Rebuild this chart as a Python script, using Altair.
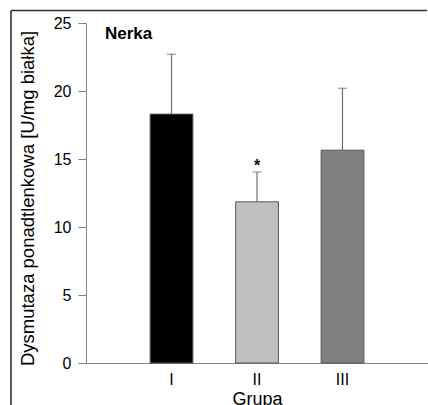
import altair as alt
import pandas as pd

groups = ["I", "II", "III"]
means = [18.3, 11.85, 15.65]
errors = [4.4, 2.2, 4.55]
colors = ["#000000", "#c0c0c0", "#808080"]
marks = ["", "*", ""]

df = pd.DataFrame({
    "Grupa": groups,
    "mean": means,
    "top": [m + e for m, e in zip(means, errors)],
    "color": colors,
    "mark": marks,
})
one = pd.DataFrame({"k": [0]})

FONT = "Liberation Sans"

x_enc = alt.X(
    "Grupa:N",
    sort=groups,
    scale=alt.Scale(paddingInner=0.5, paddingOuter=0.75),
    axis=alt.Axis(
        title="Grupa", labelAngle=0, ticks=False, labelPadding=8,
        titlePadding=3, labelFontSize=16, titleFontSize=18,
        titleFontWeight="normal", labelColor="#000", titleColor="#000",
        domainColor="#808080", labelFont=FONT, titleFont=FONT,
    ),
)

y_scale = alt.Scale(domain=[0, 25], nice=False)
y_enc = alt.Y(
    "mean:Q",
    scale=y_scale,
    axis=alt.Axis(
        title="Dysmutaza ponadtlenkowa [U/mg białka]",
        values=[0, 5, 10, 15, 20, 25], tickSize=8, tickColor="#808080",
        domainColor="#808080", labelFontSize=16, titleFontSize=18.5,
        titleFontWeight="normal", labelPadding=7, grid=False,
        labelColor="#000", titleColor="#000", labelFont=FONT, titleFont=FONT,
        titleX=-59, titleY=175, titleBaseline="middle", titleAlign="center",
        titleAngle=270,
    ),
)

bars = alt.Chart(df).mark_bar(stroke="#555555", strokeWidth=1).encode(
    x=x_enc,
    y=y_enc,
    color=alt.Color("color:N", scale=None),
)

err = alt.Chart(df).mark_rule(color="#6e6e6e", strokeWidth=1.2).encode(
    x=alt.X("Grupa:N", sort=groups),
    y=alt.Y("mean:Q", scale=y_scale),
    y2="top:Q",
)

caps = alt.Chart(df).mark_tick(color="#6e6e6e", thickness=1.2, size=9, orient="horizontal").encode(
    x=alt.X("Grupa:N", sort=groups),
    y=alt.Y("top:Q", scale=y_scale),
)

star = alt.Chart(df).mark_text(fontSize=16, fontWeight="bold", font=FONT, dy=-1,
                               baseline="alphabetic", fill="#000000").encode(
    x=alt.X("Grupa:N", sort=groups),
    y=alt.Y("top:Q", scale=y_scale),
    text="mark:N",
)

title = alt.Chart(one).mark_text(
    text="Nerka", fontSize=17, fontWeight="bold", font=FONT, align="left",
    baseline="alphabetic", fill="#000000",
).encode(x=alt.value(19), y=alt.value(16))

border_left = alt.Chart(one).mark_rule(stroke="#333333", strokeWidth=1.6).encode(
    x=alt.value(-75), y=alt.value(-12.5), y2=alt.value(400),
)
border_top = alt.Chart(one).mark_rule(stroke="#333333", strokeWidth=1.6).encode(
    x=alt.value(-75), x2=alt.value(341), y=alt.value(-12.5),
)

chart = alt.layer(bars, err, caps, star, title, border_left, border_top).properties(
    width=342, height=340,
    background="white",
    autosize=alt.AutoSizeParams(type="none"),
    padding={"left": 86, "top": 23, "right": 0, "bottom": 42},
).configure_view(strokeWidth=0, stroke="transparent")

chart.save("out.html", embed_options={"renderer": "svg", "actions": False})
